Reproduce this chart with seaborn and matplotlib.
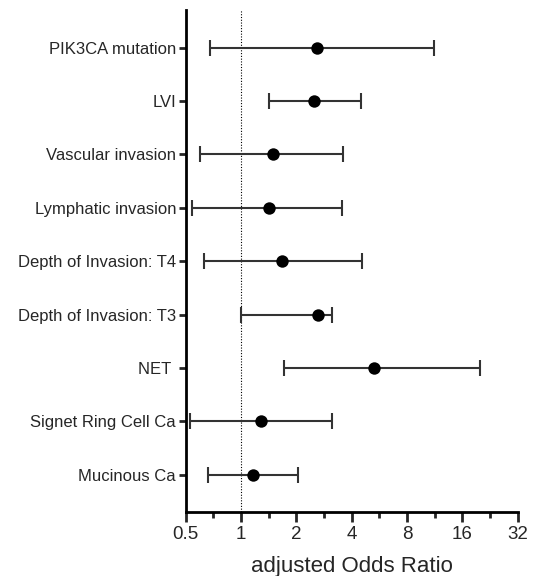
import numpy as np
import pandas as pd
import matplotlib
matplotlib.use("Agg")
import matplotlib.pyplot as plt
import matplotlib.ticker as mticker
import seaborn as sns

labels = ["PIK3CA mutation", "LVI", "Vascular invasion", "Lymphatic invasion",
          "Depth of Invasion: T4", "Depth of Invasion: T3", "NET ",
          "Signet Ring Cell Ca", "Mucinous Ca"]
odds = [2.60, 2.48, 1.49, 1.41, 1.66, 2.61, 5.26, 1.28, 1.16]
lower = [0.68, 1.41, 0.60, 0.54, 0.63, 1.00, 1.71, 0.53, 0.66]
upper = [11.2, 4.51, 3.60, 3.54, 4.55, 3.14, 19.9, 3.14, 2.04]
xticks = [0.5, 1, 2, 4, 8, 16, 32]
xtick_labels = ["0.5", "1", "2", "4", "8", "16", "32"]

df = pd.DataFrame({"label": labels, "odds": odds, "lower": lower, "upper": upper})
df["pos"] = np.arange(len(df))

sns.set_style("ticks")
plt.rcParams["font.family"] = ["Liberation Sans", "DejaVu Sans"]

fig = plt.figure(figsize=(5.34, 5.76), dpi=100)
ax = fig.add_axes([0.348, 0.1116, 0.6215, 0.8714])

ax.errorbar(df["odds"], df["pos"],
            xerr=[df["odds"] - df["lower"], df["upper"] - df["odds"]],
            fmt="none", ecolor="#333333", elinewidth=1.5, capsize=6,
            capthick=1.5, zorder=2)
sns.scatterplot(data=df, x="odds", y="pos", ax=ax, color="black", s=80,
                edgecolor="black", linewidth=0, zorder=3, legend=False)

ax.axvline(1, color="black", linestyle=(0, (1, 1.5)), linewidth=0.8, zorder=1)

ax.set_xscale("log", base=2)
ax.set_xlim(0.5, 32)
ax.set_ylim(len(df) - 0.31, -0.71)
ax.set_xticks(xticks)
ax.set_xticklabels(xtick_labels)
ax.xaxis.set_minor_locator(mticker.FixedLocator([np.sqrt(2) * t for t in xticks[:-1]]))
ax.xaxis.set_minor_formatter(mticker.NullFormatter())
ax.set_yticks(df["pos"])
ax.set_yticklabels(df["label"])

ax.tick_params(axis="x", which="major", length=7, width=2, labelsize=13.5, pad=3)
ax.tick_params(axis="x", which="minor", length=4, width=2)
ax.tick_params(axis="y", which="major", length=5, width=2, labelsize=12, pad=2)

for sp in ["top", "right"]:
    ax.spines[sp].set_visible(False)
for sp in ["left", "bottom"]:
    ax.spines[sp].set_linewidth(2)
    ax.spines[sp].set_color("black")

ax.set_xlabel("adjusted Odds Ratio", fontsize=16, labelpad=10)
ax.set_ylabel("")

fig.savefig("out.png", dpi=100)
